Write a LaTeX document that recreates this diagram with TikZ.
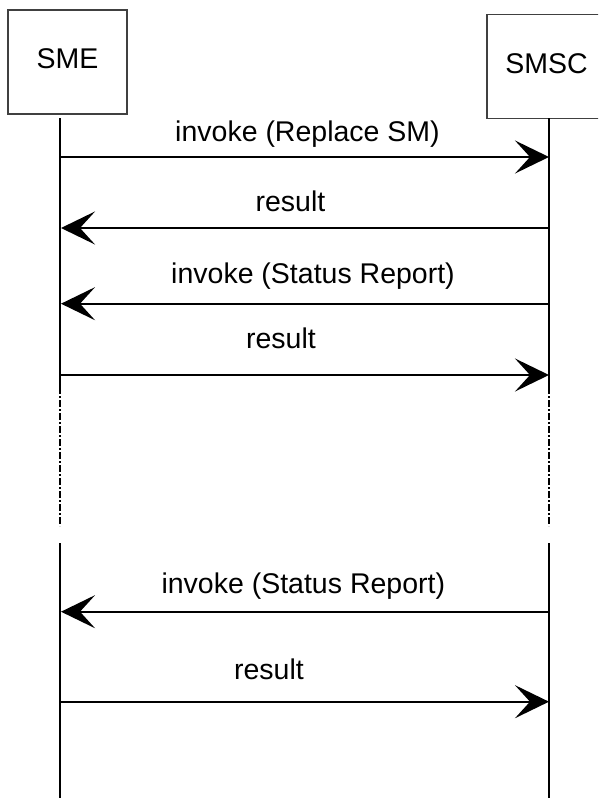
\documentclass[tikz,border=0pt]{standalone}
\usepackage{fontspec}
\setmainfont{Liberation Sans}
\usepackage{tikz}
\usetikzlibrary{arrows.meta}
\usetikzlibrary{positioning}
\tikzstyle{entity}=[rectangle,draw=black!75,line width=1.2pt,minimum width=119pt,minimum height=104pt,inner sep=0pt,text depth=6pt,font=\fontsize{28.5}{34}\selectfont]
\tikzstyle{lifeline} = [draw,line width=2pt]
\tikzstyle{gapline} = [draw,line width=2pt,dash pattern=on 7pt off 2pt on 2pt off 2pt]
\tikzstyle{msg} = [draw,line width=2.2pt,-{Stealth[length=34pt,width=33pt,inset=15pt]}]
\tikzstyle{msglabel} = [anchor=base,inner sep=0pt,font=\fontsize{28.5}{34}\selectfont]

\begin{document}
\begin{tikzpicture}[x=1pt,y=-1pt]

   \useasboundingbox (0,0) rectangle (598,798);
   \clip (0,0) rectangle (598,798);

   \def\xe{60};
   \def\xc{549};

%Entities
    \foreach \pos/\name/\label in {{(67.5,62)/sme/SME}, {(546.5,66.5)/smsc/SMSC}}
        \node[entity] (\name) at \pos {\label};

%Lifelines
    \foreach \x/\n in {\xe/e, \xc/c} {
        \coordinate (\n0) at (\x,118);
        \coordinate (\n1) at (\x,387);
        \coordinate (\n2) at (\x,526);
        \coordinate (\n3) at (\x,543);
        \coordinate (\n4) at (\x,798);
    }
    \foreach \n in {e,c} {
        \path[lifeline] (\n0) -- (\n1);
        \path[gapline] (\n1) -- (\n2);
        \path[lifeline] (\n3) -- (\n4);
    }

% Messages
    \foreach \i/\y in {1/157, 2/228, 3/303.7, 4/375, 5/611.7, 6/701.7} {
        \coordinate (m\i e) at (\xe+1,\y);
        \coordinate (m\i c) at (\xc,\y);
    }
    \foreach \source/ \dest in {m1e/m1c, m2c/m2e, m3c/m3e, m4e/m4c, m5c/m5e, m6e/m6c}
        \path[msg] (\source) -- (\dest);

   %Label
    \foreach \pos/\name/\label in {{(307.5,141)/l1/invoke (Replace SM)}, {(290.5,211.7)/l2/result},
        {(313,283)/l3/invoke (Status Report)}, {(281,348)/l4/result},
        {(303.3,593)/l5/invoke (Status Report)}, {(269,679)/l6/result}}
        \node[msglabel] (\name) at \pos {\label};

\end{tikzpicture}
\end{document}
